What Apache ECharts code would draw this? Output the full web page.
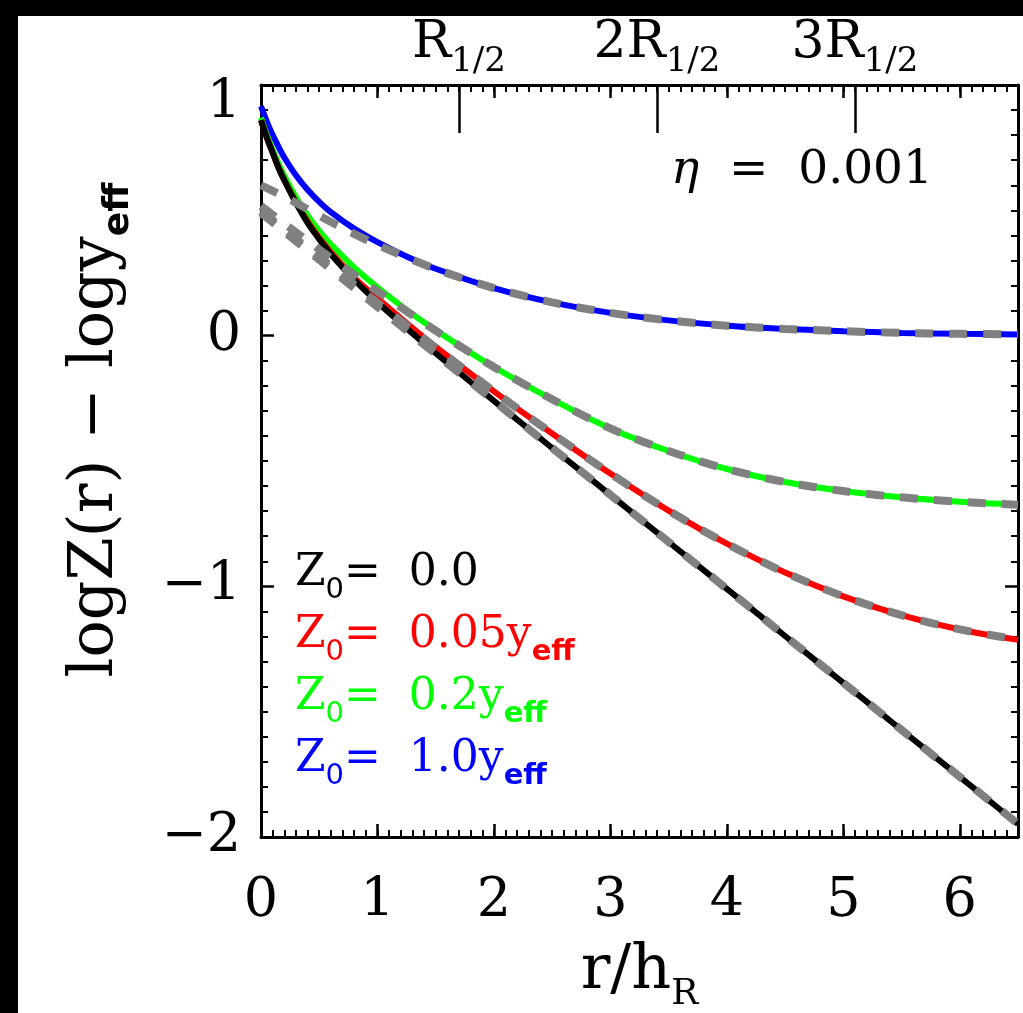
<!DOCTYPE html>
<html><head><meta charset="utf-8">
<script src="https://cdn.jsdelivr.net/npm/echarts@6/dist/echarts.min.js"></script>
<style>
html,body{margin:0;padding:0;background:#000;width:1023px;height:1013px;overflow:hidden}
#c{position:absolute;left:18px;top:16px;width:1005px;height:997px;background:#fff}
</style></head><body><div id="c"></div>
<script>
// ---- data ----
const xCurve = [0,0.05,0.1,0.15,0.2,0.3,0.4,0.5,0.6,0.8,1.0,1.25,1.5,2,2.5,3,3.5,4,4.5,5,5.5,6,6.5];
const yBlack = [0.86,0.79,0.73,0.67,0.62,0.53,0.45,0.385,0.325,0.223,0.133,0.03,-0.07,-0.26,-0.448,-0.635,-0.823,-1.01,-1.198,-1.385,-1.573,-1.76,-1.948];
const yRed   = [0.86,0.79,0.73,0.672,0.62,0.532,0.456,0.39,0.333,0.232,0.149,0.05,-0.045,-0.222,-0.39,-0.55,-0.698,-0.83,-0.945,-1.04,-1.115,-1.172,-1.213];
const yGreen = [0.87,0.80,0.742,0.687,0.637,0.552,0.48,0.418,0.364,0.272,0.193,0.103,0.022,-0.125,-0.254,-0.37,-0.46,-0.532,-0.584,-0.62,-0.645,-0.663,-0.675];
const yBlue  = [0.915,0.854,0.80,0.754,0.711,0.64,0.582,0.534,0.493,0.427,0.373,0.316,0.267,0.19,0.133,0.091,0.061,0.04,0.027,0.018,0.011,0.0075,0.005];

const xFit = [0,0.25,0.5,0.75,1,1.5,2,2.5,3,3.5,4,4.5,5,5.5,6,6.5];
const fitBlack = [0.49,0.396,0.303,0.209,0.115,-0.073,-0.26,-0.448,-0.635,-0.823,-1.01,-1.198,-1.385,-1.573,-1.76,-1.948];
const fitRed   = [0.497,0.405,0.313,0.222,0.131,-0.048,-0.222,-0.39,-0.55,-0.698,-0.83,-0.945,-1.04,-1.115,-1.172,-1.213];
const fitGreen = [0.517,0.43,0.344,0.26,0.177,0.02,-0.125,-0.254,-0.37,-0.46,-0.532,-0.584,-0.62,-0.645,-0.663,-0.675];
const fitBlue  = [0.60,0.543,0.478,0.418,0.362,0.266,0.19,0.133,0.091,0.061,0.04,0.027,0.018,0.011,0.0075,0.005];

const seriesNames = ['Z0 = 0.0','Z0 = 0.05yeff','Z0 = 0.2yeff','Z0 = 1.0yeff'];
const seriesLabels = ['0.0','0.05','0.2','1.0'];
const seriesColors = ['#000000','#ff0000','#00ff00','#0000ff'];
const halfTicks = [1.7, 3.4, 5.1];
const halfTickPrefix = ['', '2', '3'];
const etaText = '0.001';

// ---- chart ----
const F = 'DejaVu Serif';
const S = 'DejaVu Sans';
const chart = echarts.init(document.getElementById('c'), null, {renderer:'canvas'});

function line(name, xs, ys, color, width, dash, z) {
  return {type:'line', name, data: xs.map((x,i)=>[x, ys[i]]), symbol:'none', showSymbol:false,
    smooth:0.3, silent:true, animation:false, z,
    lineStyle:{color, width, type: dash ? [18,16] : 'solid', cap:'butt'}, itemStyle:{color}};
}

const legendRich = {
  z:{fontFamily:F, fontSize:44, padding:[0,0,9,0], verticalAlign:'bottom'},
  s:{fontFamily:S, fontSize:29, verticalAlign:'bottom'},
  e:{fontFamily:S, fontSize:29, fontWeight:'bold', verticalAlign:'bottom'}
};
function legendFmt(name){
  const i = seriesNames.indexOf(name);
  const v = seriesLabels[i];
  return '{z|Z}{s|0}{z|=  ' + v + (i===0 ? '}' : 'y}{e|eff}');
}

const ys = [yBlack, yRed, yGreen, yBlue];
const fits = [fitBlack, fitRed, fitGreen, fitBlue];
const series = [];
[3,2,1,0].forEach(i => series.push(line(seriesNames[i], xCurve, ys[i], seriesColors[i], 6, false, 2)));
[3,2,1,0].forEach(i => series.push(line('fit'+i, xFit, fits[i], '#808080', 8, true, 3)));

const axisLineStyle = {color:'#000', width:3};
const tickMajor = {show:true, inside:true, length:13, lineStyle:{color:'#000', width:2.5}};
const tickMinor = {show:true, inside:true, length:7, lineStyle:{color:'#000', width:2}};

chart.setOption({
  animation:false,
  backgroundColor:'#fff',
  grid:{left:243, top:69, width:757, height:752, containLabel:false, outerBoundsMode:'none'},
  title:{text:'{i|η}  =  ' + etaText, left:648, top:126,
    textStyle:{fontFamily:F, fontSize:47, color:'#000', fontWeight:'normal',
      rich:{i:{fontFamily:F, fontSize:47, fontStyle:'italic'}}}},
  legend:{show:true, orient:'vertical', left:267, top:531, icon:'none', itemWidth:0, itemHeight:10,
    itemGap:9, selectedMode:false, formatter:legendFmt,
    data: seriesNames.map((n,i)=>({name:n, textStyle:{color:seriesColors[i]}})),
    textStyle:{fontFamily:F, fontSize:44, rich:legendRich}},
  xAxis:[
    {type:'value', position:'bottom', min:0, max:6.5, interval:1,
     axisLine:{show:true, onZero:false, lineStyle:axisLineStyle}, axisTick:tickMajor, splitLine:{show:false},
     axisLabel:{fontFamily:F, fontSize:54, color:'#000', margin:38, showMaxLabel:false},
     name:'{a|r/h}{b|R}', nameLocation:'middle', nameGap:104,
     nameTextStyle:{color:'#000', rich:{a:{fontFamily:F, fontSize:62, padding:[0,0,10,0], verticalAlign:'bottom'},
                                        b:{fontFamily:F, fontSize:36, verticalAlign:'bottom'}}}},
    {type:'value', position:'bottom', min:0, max:6.5, interval:0.1,
     axisLine:{show:false, onZero:false}, axisTick:tickMinor, axisLabel:{show:false}, splitLine:{show:false}},
    {type:'value', position:'top', min:0, max:6.5, interval:1,
     axisLine:{show:true, onZero:false, lineStyle:axisLineStyle}, axisTick:tickMajor, axisLabel:{show:false}, splitLine:{show:false}},
    {type:'value', position:'top', min:0, max:6.5, interval:0.1,
     axisLine:{show:false, onZero:false}, axisTick:tickMinor, axisLabel:{show:false}, splitLine:{show:false}},
    {type:'value', position:'top', min:0, max:6.5,
     axisLine:{show:false, onZero:false},
     axisTick:{show:true, inside:true, length:48, customValues:halfTicks, lineStyle:{color:'#000', width:2.5}},
     axisLabel:{show:true, customValues:halfTicks, margin:6, color:'#000',
       formatter:(v)=>{const i = halfTicks.findIndex(t=>Math.abs(t-v)<1e-6); return '{r|'+halfTickPrefix[i]+'R}{s|1/2}';},
       rich:{r:{fontFamily:F, fontSize:52, padding:[0,0,10,0], verticalAlign:'bottom'},
             s:{fontFamily:F, fontSize:34, verticalAlign:'bottom'}}},
     splitLine:{show:false}}
  ],
  yAxis:[
    {type:'value', position:'left', min:-2, max:1, interval:1,
     axisLine:{show:true, onZero:false, lineStyle:axisLineStyle}, axisTick:tickMajor,
     minorTick:{show:true, splitNumber:10, length:7, lineStyle:{color:'#000', width:2}},
     splitLine:{show:false}, minorSplitLine:{show:false},
     axisLabel:{fontFamily:F, fontSize:54, color:'#000', margin:20,
       formatter:(v)=> v===1 ? '{t|1}' : (v<0 ? '−' + (-v) : String(v)),
       rich:{t:{fontFamily:F, fontSize:54, padding:[38,0,0,0]}}},
     name:'{a|logZ(r) − logy}{b|eff}', nameLocation:'middle', nameGap:124, nameRotate:90,
     nameTextStyle:{color:'#000', rich:{a:{fontFamily:F, fontSize:62, padding:[0,0,10,62], verticalAlign:'bottom'},
                                        b:{fontFamily:S, fontSize:36, fontWeight:'bold', verticalAlign:'bottom'}}}},
    {type:'value', position:'right', min:-2, max:1, interval:1,
     axisLine:{show:true, onZero:false, lineStyle:axisLineStyle}, axisTick:tickMajor,
     minorTick:{show:true, splitNumber:10, length:7, lineStyle:{color:'#000', width:2}},
     splitLine:{show:false}, axisLabel:{show:false}}
  ],
  series
});
</script></body></html>
